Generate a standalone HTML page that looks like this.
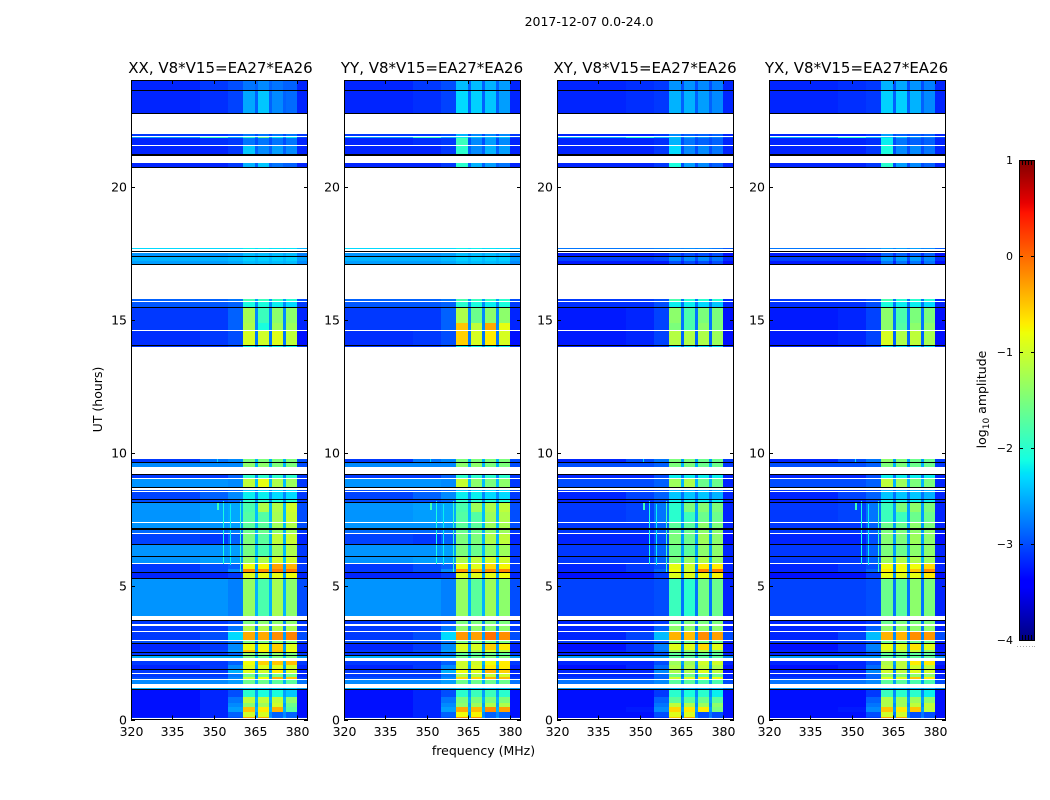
<!DOCTYPE html>
<html lang="en">
<head>
<meta charset="utf-8">
<title>2017-12-07 amplitude waterfall</title>
<style>
html,body{margin:0;padding:0;background:#fff;width:1050px;height:800px;overflow:hidden}
svg{display:block}
text{font-family:"DejaVu Sans","Liberation Sans",sans-serif;fill:#000}
</style>
</head>
<body>
<svg id="chart" xmlns="http://www.w3.org/2000/svg" width="1050" height="800" viewBox="0 0 1050 800">
  <rect x="0" y="0" width="1050" height="800" fill="#fff"/>
  <text x="589" y="26" font-size="12.5" text-anchor="middle">2017-12-07 0.0-24.0</text>
  <text transform="translate(102,399.5) rotate(-90)" font-size="12.5" text-anchor="middle">UT (hours)</text>
  <text x="483.5" y="755" font-size="12.5" text-anchor="middle">frequency (MHz)</text>
  <text transform="translate(986,399.5) rotate(-90)" font-size="12.5" text-anchor="middle">log<tspan font-size="9" dy="3">10</tspan><tspan dy="-3"> amplitude</tspan></text>
  <g id="panels"></g>
  <g id="colorbar"></g>
</svg>
<script>
// Categories and tick labels
const panelNames = ["XX", "YY", "XY", "YX"];
const panelSuffix = ", V8*V15=EA27*EA26";
const xTickValues = [320, 335, 350, 365, 380];
const yTickValues = [0, 5, 10, 15, 20];
const colorbarTicks = [1, 0, -1, -2, -3, -4];

// Channel edges in MHz
const freqEdges = [320, 345, 355, 360.5, 365, 366, 370, 371, 375, 376, 380, 384];

// Time rows in UT hours
const rowStart = [0.05,0.105,0.29,0.48,0.63,0.84,1.14,1.33,1.53,1.58,1.75,1.88,2.05,2.32,2.43,2.52,2.6,2.88,3.0,3.33,3.58,3.9,5.31,5.52,5.66,5.87,6.14,6.59,7.0,7.19,7.41,7.8,8.16,8.26,8.59,8.73,9.06,9.49,9.66,13.97,14.04,14.62,14.89,15.49,15.7,17.09,17.22,17.38,17.64,20.72,21.22,21.56,21.82,21.9,22.76,23.62];
const rowEnd = [0.105,0.29,0.48,0.63,0.84,1.12,1.18,1.49,1.58,1.71,1.86,2.05,2.2,2.41,2.5,2.6,2.86,2.96,3.27,3.51,3.71,5.28,5.48,5.66,5.84,6.1,6.55,6.98,7.12,7.39,7.8,8.13,8.24,8.55,8.61,9.03,9.18,9.61,9.78,14.02,14.58,14.87,15.44,15.67,15.77,17.19,17.36,17.51,17.7,20.87,21.52,21.82,21.86,21.97,23.59,24];

// Flagged black rows in UT hours
const blackStart = [1.12,1.86,2.41,2.50,2.86,3.71,5.28,5.48,6.10,6.55,7.12,8.13,8.24,8.69,9.18,9.63,14.02,15.44,17.06,17.36,17.55,20.68,21.16,22.72,23.59];
const blackEnd = [1.14,1.88,2.43,2.52,2.88,3.73,5.31,5.52,6.14,6.59,7.19,8.16,8.26,8.73,9.21,9.66,14.04,15.49,17.09,17.38,17.58,20.72,21.22,22.76,23.62];

// Narrow interference lines
const rfiFreq = [351, 351.6, 353.3, 355.8, 359.5, 351];
const rfiStart = [7.85, 7.85, 5.85, 5.8, 5.55, 9.66];
const rfiEnd = [8.13, 8.13, 8.2, 8.1, 8.2, 9.78];
const rfiLevel = [-1.9, -1.9, -2.1, -2.2, -1.9, -2.3];

// log10 amplitude outside the bands, one entry per time row:
// 320-345, 345-355, 355-360.5, gaps between bands, 380-384
const quietParallel = [
[-3.2,-3.2,-3,-2.6,-3.2],[-3.3,-3.2,-2.9,-2.7,-3.3],[-3.3,-3.2,-2.6,-2.5,-3.3],[-3.3,-3.2,-2.7,-2.6,-3.3],
[-3.3,-3.2,-2.8,-2.5,-3.3],[-3.3,-3.2,-3,-2.6,-3.3],[-2.5,-2.5,-2.5,-2.5,-2.6],[-2.7,-2.7,-2.6,-2.5,-2.8],
[-3,-3,-2.7,-2.6,-3.1],[-3.1,-3.1,-2.8,-2.7,-3.2],[-3.1,-3.1,-2.5,-2.6,-3.2],[-3.2,-3.1,-2.7,-2.6,-3.2],
[-3.1,-3.1,-2.9,-2.5,-3.1],[-2.5,-2.5,-2.5,-2.4,-2.6],[-3.1,-3.1,-2.9,-2.7,-3.1],[-3.1,-3,-2.6,-2.6,-3.2],
[-3.2,-3.1,-2.7,-2.6,-3.2],[-3,-3,-2.8,-2.7,-3.1],[-3.1,-3,-2.3,-2.6,-3],[-3.1,-3.1,-2.8,-2.7,-3.1],
[-3.1,-3.1,-3,-2.7,-3.1],[-2.65,-2.65,-2.75,-2.5,-3],[-3.2,-3.2,-3.1,-2.6,-3.2],[-3.1,-3,-2.7,-2.6,-3.1],
[-3.1,-3,-2.9,-2.6,-3.1],[-2.65,-2.6,-2.6,-2.4,-3.1],[-2.65,-2.65,-2.6,-2.45,-3.1],[-3.05,-3.1,-2.9,-2.5,-3.2],
[-2.85,-2.85,-2.75,-2.5,-3.1],[-2.65,-2.65,-2.6,-2.45,-3],[-2.65,-2.6,-2.55,-2.45,-3],[-2.65,-2.6,-2.55,-2.45,-3],
[-3,-3,-2.9,-2.7,-3.1],[-3.05,-2.9,-2.7,-2.7,-3.1],[-3,-3,-2.9,-2.7,-3],[-2.65,-2.65,-2.7,-2.45,-3.1],
[-3.1,-3.1,-2.9,-2.7,-3.1],[-2.7,-2.7,-2.7,-2.5,-3],[-3.1,-2.8,-2.7,-2.5,-3],[-3.1,-3.1,-3,-2.6,-3.1],
[-3.15,-3.1,-3,-2.8,-3.3],[-3.1,-3.1,-2.9,-2.7,-3.2],[-3.1,-3.1,-2.9,-2.7,-3.2],[-2.95,-2.95,-2.9,-2.7,-3.1],
[-2.9,-2.9,-2.8,-2.6,-3],[-2.6,-2.6,-2.55,-2.5,-2.7],[-2.5,-2.5,-2.45,-2.45,-2.6],[-2.65,-2.65,-2.6,-2.55,-2.75],
[-2.3,-2.3,-2.3,-2.3,-2.5],[-3.2,-3.2,-3.1,-2.9,-3.2],[-3.2,-3.2,-3.1,-2.9,-3.2],[-3.2,-3.15,-3.1,-3,-3.2],
[-2.6,-2,-2.5,-2.6,-3],[-3.1,-3.1,-3,-3,-3.1],[-3.2,-3.15,-3.05,-2.9,-3.2],[-3.2,-3.1,-3,-2.9,-3.2]
];
const quietCross = [
[-3.3,-3.3,-3.1,-2.7,-3.3],[-3.3,-3.3,-3,-2.8,-3.3],[-3.3,-3.25,-2.7,-2.6,-3.3],[-3.3,-3.3,-2.8,-2.7,-3.3],
[-3.3,-3.3,-2.9,-2.6,-3.3],[-3.3,-3.3,-3.1,-2.7,-3.3],[-2.6,-2.6,-2.6,-2.6,-2.7],[-2.8,-2.8,-2.7,-2.6,-3],
[-3.1,-3.1,-2.9,-2.7,-3.2],[-3.2,-3.2,-2.9,-2.8,-3.2],[-3.2,-3.2,-2.7,-2.7,-3.3],[-3.3,-3.2,-2.85,-2.7,-3.3],
[-3.2,-3.2,-3,-2.6,-3.2],[-2.6,-2.6,-2.6,-2.6,-2.7],[-3.2,-3.2,-3,-2.8,-3.2],[-3.2,-3.1,-2.8,-2.7,-3.2],
[-3.3,-3.15,-2.75,-2.7,-3.3],[-3.1,-3.1,-3,-2.8,-3.2],[-3.2,-3.05,-2.45,-2.7,-3],[-3.2,-3.2,-2.9,-2.8,-3.2],
[-3.2,-3.2,-3.1,-2.8,-3.2],[-3.05,-3.05,-3,-2.8,-3.2],[-3.3,-3.3,-3.1,-2.7,-3.3],[-3.2,-3.1,-2.9,-2.7,-3.2],
[-3.2,-3.1,-3,-2.7,-3.2],[-3.1,-3.1,-2.9,-2.5,-3.2],[-3.1,-3.1,-2.9,-2.6,-3.2],[-3.2,-3.2,-3,-2.6,-3.3],
[-3.1,-3.1,-2.9,-2.6,-3.2],[-3.1,-3.1,-2.9,-2.6,-3.2],[-3.1,-3.05,-2.8,-2.6,-3.2],[-3.1,-3.05,-2.8,-2.6,-3.2],
[-3.2,-3.15,-3,-2.8,-3.2],[-3.2,-3.05,-2.9,-2.8,-3.2],[-3.1,-3.1,-3,-2.8,-3.1],[-3,-3,-2.9,-2.5,-3.2],
[-3.2,-3.2,-3,-2.8,-3.2],[-3,-3,-2.9,-2.5,-3.1],[-3.2,-3,-2.8,-2.6,-3.1],[-3.2,-3.2,-3.1,-2.8,-3.2],
[-3.25,-3.2,-3.05,-2.9,-3.3],[-3.25,-3.2,-3.05,-2.8,-3.3],[-3.25,-3.2,-3.05,-2.8,-3.3],[-3.15,-3.15,-3,-2.8,-3.2],
[-3.1,-3.1,-3,-2.8,-3.2],[-3.25,-3.25,-3.25,-3.2,-3.3],[-3.05,-3.05,-3,-3,-3.15],[-3.25,-3.25,-3.2,-3.15,-3.3],
[-2.8,-2.8,-2.75,-2.75,-2.95],[-3.2,-3.2,-3.1,-3,-3.2],[-3.2,-3.2,-3.1,-3,-3.2],[-3.2,-3.2,-3.15,-3,-3.2],
[-2.5,-2.1,-2.45,-2.8,-3],[-3.2,-3.2,-3.1,-3,-3.2],[-3.2,-3.15,-3.1,-2.9,-3.2],[-3.2,-3.15,-3.1,-3,-3.2]
];

// log10 amplitude inside the four bands, one entry per time row
const bandsXX = [
[-0.3,-0.3,-2.9,-2.9],[-1,-0.95,-2.9,-2.9],[-0.5,-0.7,-0.4,-1.7],[-1.4,-1.3,-1,-1.6],[-1.1,-1.1,-1.1,-1.4],[-2,-2.1,-2.1,-2.4],[-2.4,-2.4,-2.4,-2.4],
[-1.6,-1.6,-1.7,-1.7],[-1,-0.8,-0.4,-0.5],[-1.6,-1.6,-1.6,-1.6],[-0.9,-1,-0.7,-1],[-0.9,-0.9,-0.9,-1],[-0.8,-0.55,-0.5,-0.45],[-1.5,-1.6,-1.5,-1.5],
[-1.4,-1.4,-1.4,-1.5],[-0.5,-0.7,-0.5,-0.8],[-0.8,-0.8,-0.55,-0.9],[-1.5,-1.5,-1.5,-1.5],[-0.35,-0.35,-0.2,-0.15],[-1.2,-1.2,-1.2,-1.25],[-1.5,-1.4,-1.4,-1.4],
[-1.35,-1.8,-1.25,-1.4],[-0.9,-0.85,-0.85,-0.8],[-0.2,-0.2,-0.1,-0.1],[-0.8,-0.75,-0.3,-0.4],[-1.35,-1.2,-1,-1],[-1.55,-1.8,-1.3,-1.2],[-1.5,-1.7,-1.1,-1.05],
[-1.6,-1.6,-1.4,-1.3],[-1.7,-1.7,-1.3,-1.2],[-1.75,-1.75,-1.25,-1.05],[-1.8,-1.2,-1.2,-1],[-2,-2,-2.1,-2.1],[-2.2,-2.2,-2.3,-2.3],[-2.4,-2.3,-2.3,-2.3],
[-1.1,-0.85,-1.2,-1.3],[-2,-2,-2,-2],[-1.4,-1.4,-1.5,-1.5],[-1.5,-1.5,-1.5,-1.5],[-2.2,-2.2,-2.2,-2.2],[-0.95,-1,-0.9,-1.1],[-1.2,-2.1,-1.3,-1.3],[-1.25,-1.9,-1.4,-1.4],
[-2.1,-2.1,-2.2,-2.3],[-1.8,-1.9,-1.9,-2],[-2.45,-2.45,-2.45,-2.45],[-2.35,-2.35,-2.35,-2.35],[-2.45,-2.45,-2.45,-2.45],[-2.2,-2.2,-2.25,-2.25],[-2.5,-2.4,-2.8,-2.9],
[-2.4,-2.7,-2.6,-2.7],[-2.8,-2.8,-2.8,-2.8],[-2,-1.7,-2.2,-2.2],[-2.8,-2.8,-2.8,-2.8],[-2.55,-2.4,-2.7,-2.85],[-2.8,-2.7,-2.8,-2.9]
];
const bandsYY = [
[-0.2,-0.2,-2.9,-2.9],[-0.8,-0.75,-2.9,-2.9],[-0.35,-0.45,-0.2,-0.3],[-1.4,-1.3,-1.2,-1.2],[-1.5,-1.5,-1.5,-1.5],[-2,-1.9,-1.9,-2],[-2.4,-2.4,-2.4,-2.4],
[-1.6,-1.6,-1.6,-1.6],[-0.6,-0.6,-0.4,-0.45],[-1.2,-1.2,-1.1,-1],[-0.8,-0.9,-0.4,-0.55],[-1,-0.9,-0.7,-0.7],[-1,-1,-0.8,-0.7],[-1.6,-1.6,-1.5,-1.5],
[-1.7,-1.7,-1.6,-1.7],[-1.1,-1.2,-1,-1.2],[-0.9,-0.95,-0.55,-0.7],[-1.5,-1.5,-1.5,-1.5],[-0.25,-0.3,-0.05,-0.2],[-1.4,-1.4,-1.4,-1.4],[-1.5,-1.5,-1.5,-1.5],
[-1.35,-1.7,-1.3,-1.4],[-0.9,-0.9,-0.85,-0.8],[-0.25,-0.4,-0.2,-0.15],[-0.8,-0.9,-0.6,-0.75],[-1.2,-1.1,-1,-1],[-1.5,-1.6,-1.4,-1.3],[-1.5,-1.5,-1.2,-1.1],
[-1.6,-1.6,-1.4,-1.3],[-1.7,-1.7,-1.3,-1.25],[-1.75,-1.75,-1.3,-1.2],[-1.8,-1.3,-1.2,-1.1],[-2,-2,-2.1,-2.1],[-2.2,-2.2,-2.3,-2.3],[-2.4,-2.3,-2.3,-2.3],
[-1.05,-1.4,-1.5,-1.4],[-2,-2,-2,-2],[-1.4,-1.4,-1.5,-1.5],[-1.5,-1.5,-1.5,-1.5],[-2.2,-2.2,-2.2,-2.2],[-0.55,-0.95,-0.7,-0.95],[-0.5,-1.1,-0.35,-0.85],[-1.2,-1.6,-1.4,-1.4],
[-2,-2.1,-2.2,-2.1],[-1.8,-1.9,-1.9,-2],[-2.45,-2.45,-2.45,-2.45],[-2.35,-2.35,-2.35,-2.35],[-2.45,-2.45,-2.45,-2.45],[-2.2,-2.2,-2.25,-2.25],[-2,-2.5,-2.6,-2.8],
[-2,-2.7,-2.5,-2.6],[-1.9,-2.7,-2.6,-2.7],[-2.2,-2.4,-2.4,-2.4],[-2.5,-2.7,-2.7,-2.7],[-2.3,-2.35,-2.4,-2.6],[-2.45,-2.45,-2.5,-2.6]
];
const bandsXY = [
[-0.5,-0.3,-3,-3],[-0.9,-0.9,-3,-3],[-0.6,-0.7,-0.7,-1.5],[-1.1,-1.2,-1.3,-1.4],[-1.7,-1.7,-1.6,-1.7],[-2,-2.1,-2,-2.2],[-2.5,-2.5,-2.5,-2.5],
[-1.7,-1.7,-1.8,-1.8],[-1,-0.9,-0.7,-0.8],[-1.6,-1.6,-1.6,-1.6],[-1.2,-1.2,-0.9,-1.1],[-1.2,-1.2,-1.1,-1.2],[-1.3,-1.3,-1,-1],[-1.7,-1.7,-1.7,-1.7],
[-1.7,-1.7,-1.7,-1.7],[-1.3,-1.4,-1.2,-1.5],[-0.9,-0.9,-0.6,-0.9],[-1.6,-1.6,-1.6,-1.6],[-0.4,-0.45,-0.2,-0.3],[-1.4,-1.4,-1.4,-1.4],[-1.6,-1.5,-1.5,-1.5],
[-1.9,-2,-1.55,-1.6],[-0.9,-0.9,-0.8,-0.75],[-0.8,-1,-0.15,-0.1],[-0.85,-1,-0.7,-0.7],[-1.5,-1.35,-1.2,-1.35],[-1.6,-1.7,-1.4,-1.4],[-1.5,-1.6,-1.3,-1.4],
[-1.6,-1.6,-1.4,-1.4],[-1.7,-1.7,-1.4,-1.5],[-2,-1.9,-1.6,-1.6],[-2,-1.5,-1.45,-1.5],[-2.2,-2.2,-2.2,-2.2],[-2.4,-2.4,-2.4,-2.5],[-2.5,-2.5,-2.5,-2.5],
[-1.3,-1.2,-1.6,-1.6],[-2.2,-2.2,-2.2,-2.2],[-1.5,-1.5,-1.6,-1.6],[-1.5,-1.5,-1.6,-1.6],[-2.3,-2.3,-2.3,-2.3],[-1.15,-1.2,-1.2,-1.3],[-1.5,-1.8,-1.4,-1.5],[-1.4,-1.8,-1.5,-1.5],
[-2.2,-2.2,-2.3,-2.4],[-1.8,-2,-2,-2],[-3,-3,-3,-3],[-2.7,-2.7,-2.7,-2.8],[-3,-3,-3,-3],[-2.7,-2.7,-2.7,-2.8],[-2.1,-2.6,-2.7,-2.9],
[-2.3,-2.7,-2.7,-2.8],[-2.5,-2.8,-2.9,-2.9],[-2.4,-2.5,-2.6,-2.7],[-2.7,-2.9,-2.9,-2.9],[-2.5,-2.5,-2.6,-2.7],[-2.65,-2.65,-2.7,-2.75]
];
const bandsYX = [
[-0.3,-0.3,-3,-3],[-1,-1,-3,-3],[-0.5,-0.7,-0.5,-1.1],[-1.2,-1.3,-1.1,-1.1],[-1.2,-1.3,-1.3,-1.4],[-1.9,-2,-2,-2.2],[-2.5,-2.5,-2.5,-2.5],
[-1.7,-1.7,-1.8,-1.8],[-0.9,-0.9,-0.5,-0.7],[-1.4,-1.5,-1.4,-1.4],[-1,-1.1,-0.9,-1],[-1.1,-1.1,-1,-1.1],[-1.2,-1.1,-0.7,-0.7],[-1.7,-1.7,-1.7,-1.7],
[-1.7,-1.7,-1.7,-1.7],[-1.1,-1.2,-1.1,-1.4],[-0.85,-0.9,-0.65,-0.9],[-1.6,-1.6,-1.6,-1.6],[-0.4,-0.4,-0.2,-0.25],[-1.4,-1.4,-1.4,-1.4],[-1.6,-1.5,-1.5,-1.5],
[-1.6,-1.7,-1.4,-1.5],[-0.85,-0.9,-0.85,-0.7],[-0.7,-0.8,-0.5,-0.2],[-0.8,-0.8,-0.8,-0.6],[-1.3,-1.2,-1.2,-1.3],[-1.5,-1.6,-1.4,-1.4],[-1.45,-1.5,-1.3,-1.4],
[-1.5,-1.5,-1.4,-1.4],[-1.6,-1.6,-1.4,-1.5],[-1.9,-1.9,-1.6,-1.6],[-1.9,-1.5,-1.4,-1.5],[-2.2,-2.2,-2.2,-2.2],[-2.4,-2.4,-2.4,-2.5],[-2.5,-2.5,-2.5,-2.5],
[-1.1,-1.3,-1.5,-1.5],[-2.2,-2.2,-2.2,-2.2],[-1.5,-1.5,-1.6,-1.6],[-1.4,-1.5,-1.6,-1.6],[-2.3,-2.3,-2.3,-2.3],[-0.95,-1.2,-1.1,-1.25],[-1.4,-1.75,-1.4,-1.4],[-1.4,-1.8,-1.5,-1.5],
[-2.1,-2.2,-2.2,-2.3],[-1.8,-2,-2,-2],[-2.8,-2.8,-2.8,-2.8],[-2.6,-2.6,-2.6,-2.7],[-2.9,-2.9,-2.9,-2.9],[-2.6,-2.6,-2.6,-2.7],[-2,-2.6,-2.7,-2.9],
[-2.1,-2.7,-2.7,-2.8],[-2.2,-2.8,-2.9,-2.9],[-2.3,-2.4,-2.6,-2.7],[-2.6,-2.9,-2.9,-2.9],[-2.35,-2.35,-2.5,-2.7],[-2.5,-2.55,-2.65,-2.75]
];
const panelBands = [bandsXX, bandsYY, bandsXY, bandsYX];
const panelQuiet = [quietParallel, quietParallel, quietCross, quietCross];

// Layout
const SVG_NS = "http://www.w3.org/2000/svg";
const panelLeft = [131, 344, 557, 769];
const titleCenter = [220.5, 432, 645, 856.5];
const panelWidth = 177;
const plotTop = 80, plotBottom = 719.5;
const xMin = 320, xMax = 384, yMin = 0, yMax = 24;
const cbLeft = 1019, cbRight = 1035, cbTop = 160, cbBottom = 640, cbMin = -4, cbMax = 1;

function scaleX(left, f) { return left + (f - xMin) / (xMax - xMin) * panelWidth; }
function scaleY(h) { return plotBottom - (h - yMin) / (yMax - yMin) * (plotBottom - plotTop); }
function scaleCb(v) { return cbBottom - (v - cbMin) / (cbMax - cbMin) * (cbBottom - cbTop); }

// Picks the value for channel c (index between freqEdges) of one time row.
function channelValue(quiet, bands, c) {
  if (c < 3) return quiet[c];
  if (c === 3) return bands[0];
  if (c === 5) return bands[1];
  if (c === 7) return bands[2];
  if (c === 9) return bands[3];
  if (c === 10) return quiet[4];
  return quiet[3];
}

function ramp(pts, t) {
  for (let i = 1; i < pts.length; i++) {
    if (t <= pts[i][0]) {
      const a = pts[i - 1], b = pts[i];
      return a[1] + (b[1] - a[1]) * (t - a[0]) / (b[0] - a[0]);
    }
  }
  return pts[pts.length - 1][1];
}
const jetR = [[0,0],[0.35,0],[0.66,1],[0.89,1],[1,0.5]];
const jetG = [[0,0],[0.125,0],[0.375,1],[0.64,1],[0.91,0],[1,0]];
const jetB = [[0,0.5],[0.11,1],[0.34,1],[0.65,0],[1,0]];
function jet(v) {
  const t = Math.max(0, Math.min(1, (v - cbMin) / (cbMax - cbMin)));
  return "rgb(" + Math.round(255 * ramp(jetR, t)) + "," + Math.round(255 * ramp(jetG, t)) + "," + Math.round(255 * ramp(jetB, t)) + ")";
}
function make(tag, attrs, parent) {
  const e = document.createElementNS(SVG_NS, tag);
  for (const k in attrs) e.setAttribute(k, attrs[k]);
  parent.appendChild(e);
  return e;
}

const panelsGroup = document.getElementById("panels");
panelNames.forEach(function (name, p) {
  const left = panelLeft[p];
  const right = left + panelWidth;
  const g = make("g", {}, panelsGroup);
  
  

  rowStart.forEach(function (h0, r) {
    const y0 = Math.round(scaleY(rowEnd[r]));
    const y1 = Math.round(scaleY(h0));
    for (let c = 0; c < freqEdges.length - 1; c++) {
      const x0 = Math.round(scaleX(left, freqEdges[c]));
      const x1 = Math.round(scaleX(left, freqEdges[c + 1]));
      const level = channelValue(panelQuiet[p][r], panelBands[p][r], c);
      const cell = make("rect", {x: x0, y: y0, width: x1 - x0, height: Math.max(1, y1 - y0), fill: jet(level), "shape-rendering": "crispEdges"}, g);
      
      
    }
  });

  rfiFreq.forEach(function (f, i) {
    const y0 = Math.round(scaleY(rfiEnd[i]));
    const y1 = Math.round(scaleY(rfiStart[i]));
    const line = make("rect", {x: Math.round(scaleX(left, f)), y: y0, width: 1, height: y1 - y0, fill: jet(rfiLevel[i]), "shape-rendering": "crispEdges"}, g);
    
    
  });

  blackStart.forEach(function (h0, i) {
    const y0 = Math.round(scaleY(blackEnd[i]));
    const y1 = Math.round(scaleY(h0));
    const band = make("rect", {x: left, y: y0, width: panelWidth, height: Math.max(1, y1 - y0), fill: "#000", "shape-rendering": "crispEdges"}, g);
    
    
  });

  const frame = make("rect", {x: left + 0.5, y: plotTop + 0.5, width: panelWidth - 1, height: plotBottom - plotTop - 0.5, fill: "none", stroke: "#000", "stroke-width": 1}, g);
  
  

  const title = make("text", {x: titleCenter[p], y: 73, "font-size": 15, "text-anchor": "middle"}, g);
  title.textContent = name + panelSuffix;
  
  

  xTickValues.forEach(function (f) {
    const x = Math.round(scaleX(left, f)) + 0.5;
    const bottomTick = make("line", {x1: x, x2: x, y1: plotBottom, y2: plotBottom - 4, stroke: "#000"}, g);
    
    
    const topTick = make("line", {x1: x, x2: x, y1: plotTop, y2: plotTop + 4, stroke: "#000"}, g);
    
    
    const label = make("text", {x: x, y: 736, "font-size": 12.5, "text-anchor": "middle"}, g);
    label.textContent = f;
    
    
  });

  yTickValues.forEach(function (h) {
    const y = Math.round(scaleY(h)) + 0.5;
    const leftTick = make("line", {x1: left, x2: left + 4, y1: y, y2: y, stroke: "#000"}, g);
    
    
    const rightTick = make("line", {x1: right, x2: right - 4, y1: y, y2: y, stroke: "#000"}, g);
    
    
    const label = make("text", {x: left - 4, y: y + 4, "font-size": 12.5, "text-anchor": "end"}, g);
    label.textContent = h;
    
    
  });
});

// Colorbar
const cbGroup = document.getElementById("colorbar");
for (let y = cbTop; y < cbBottom; y++) {
  const v = cbMax - (y + 0.5 - cbTop) / (cbBottom - cbTop) * (cbMax - cbMin);
  const step = make("rect", {x: cbLeft, y: y, width: cbRight - cbLeft, height: 1, fill: jet(v), "shape-rendering": "crispEdges"}, cbGroup);
  
  
}
const cbFrame = make("rect", {x: cbLeft + 0.5, y: cbTop + 0.5, width: cbRight - cbLeft - 1, height: cbBottom - cbTop, fill: "none", stroke: "#000"}, cbGroup);



colorbarTicks.forEach(function (v) {
  const y = Math.round(scaleCb(v)) + 0.5;
  const leftTick = make("line", {x1: cbLeft, x2: cbLeft + 4, y1: y, y2: y, stroke: "#000"}, cbGroup);
  
  
  const rightTick = make("line", {x1: cbRight, x2: cbRight - 4, y1: y, y2: y, stroke: "#000"}, cbGroup);
  
  
  const label = make("text", {x: 1013, y: y + 3.5, "font-size": 11, "text-anchor": "end"}, cbGroup);
  label.textContent = String(v).replace("-", "\u2212");
  
  
});

// Short end ticks at the top and bottom of the colorbar, and the faint dots below it
[1022.5, 1025.5, 1028.5, 1031.5].forEach(function (x) {
  const topMark = make("line", {x1: x, x2: x, y1: cbTop, y2: cbTop + 5, stroke: "#000"}, cbGroup);
  
  
  const bottomMark = make("line", {x1: x, x2: x, y1: cbBottom, y2: cbBottom - 5, stroke: "#000"}, cbGroup);
  
  
});
[1017, 1020, 1023, 1026, 1029, 1032, 1034].forEach(function (x) {
  const dot = make("rect", {x: x, y: 646, width: 1, height: 1, fill: "#aaa", "shape-rendering": "crispEdges"}, cbGroup);
  
  
});
</script>
</body>
</html>
